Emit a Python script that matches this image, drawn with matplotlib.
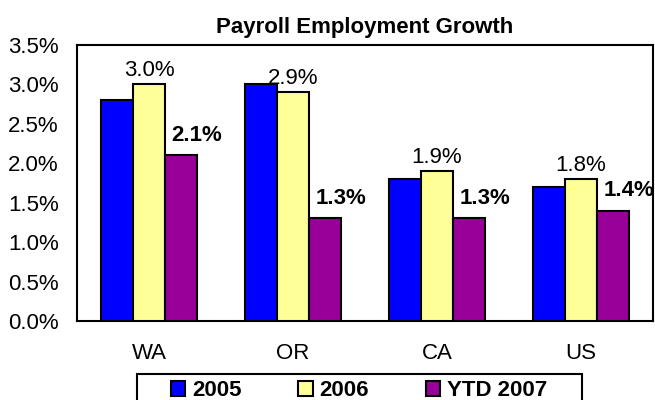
import matplotlib
matplotlib.use("Agg")
import matplotlib.pyplot as plt
import numpy as np
from matplotlib.ticker import FuncFormatter, MultipleLocator
from matplotlib.patches import Rectangle

plt.rcParams['font.family'] = ['Liberation Sans', 'DejaVu Sans']

categories = ["WA", "OR", "CA", "US"]
series_names = ["2005", "2006", "YTD 2007"]
v2005 = [2.8, 3.0, 1.8, 1.7]
v2006 = [3.0, 2.9, 1.9, 1.8]
vytd = [2.1, 1.3, 1.3, 1.4]
colors = ["#0000FF", "#FFFF99", "#990099"]
title = "Payroll Employment Growth"

FS = 16

fig = plt.figure(figsize=(6.55, 4.0), dpi=100)
ax = fig.add_axes([77/655, 1-321/400, (653-77)/655, (321-45)/400])

x = np.arange(len(categories))
w = 0.222
series = [v2005, v2006, vytd]
for i, (vals, c, name) in enumerate(zip(series, colors, series_names)):
    ax.bar(x + (i-1)*w, vals, width=w, color=c, edgecolor='black',
           linewidth=1.5, label=name, zorder=3)

# 2006 labels (normal), centered above yellow bars
for xi, v in zip(x, v2006):
    ax.annotate(f"{v:.1f}%", (xi, v), xytext=(0, 6), textcoords='offset points',
                ha='center', va='baseline', fontsize=FS)
# YTD labels (bold), centered on right edge of purple bars
for xi, v in zip(x, vytd):
    ax.annotate(f"{v:.1f}%", (xi + 1.5*w, v), xytext=(0, 10.5), textcoords='offset points',
                ha='center', va='baseline', fontsize=FS, fontweight='bold',
                annotation_clip=False)

ax.set_xlim(-0.5, 3.5)
ax.set_ylim(0, 3.5)
ax.yaxis.set_major_locator(MultipleLocator(0.5))
ax.yaxis.set_major_formatter(FuncFormatter(lambda v, p: f"{v:.1f}%"))
ax.set_xticks(x)
ax.set_xticklabels(categories)
ax.tick_params(axis='both', length=0, labelsize=FS)
ax.tick_params(axis='y', pad=13)
ax.tick_params(axis='x', pad=16)
for s in ax.spines.values():
    s.set_linewidth(1.5)
    s.set_color('black')

fig.text((77+653)/2/655, 1-28/400, title, ha='center', va='center',
         fontsize=16, fontweight='bold')

leg = fig.legend(loc='upper center', bbox_to_anchor=(359/655, 1-380/400),
                 ncol=3, frameon=False,
                 prop={'weight': 'bold', 'size': FS}, handlelength=0.65,
                 handleheight=0.65, handletextpad=0.3, borderpad=0,
                 borderaxespad=0, columnspacing=2.55)
fig.patches.append(Rectangle((137/655, 1-402/400), 445/655, 28/400,
                             transform=fig.transFigure, fill=False,
                             edgecolor='black', linewidth=1.5))

fig.savefig("out.png", dpi=100)
